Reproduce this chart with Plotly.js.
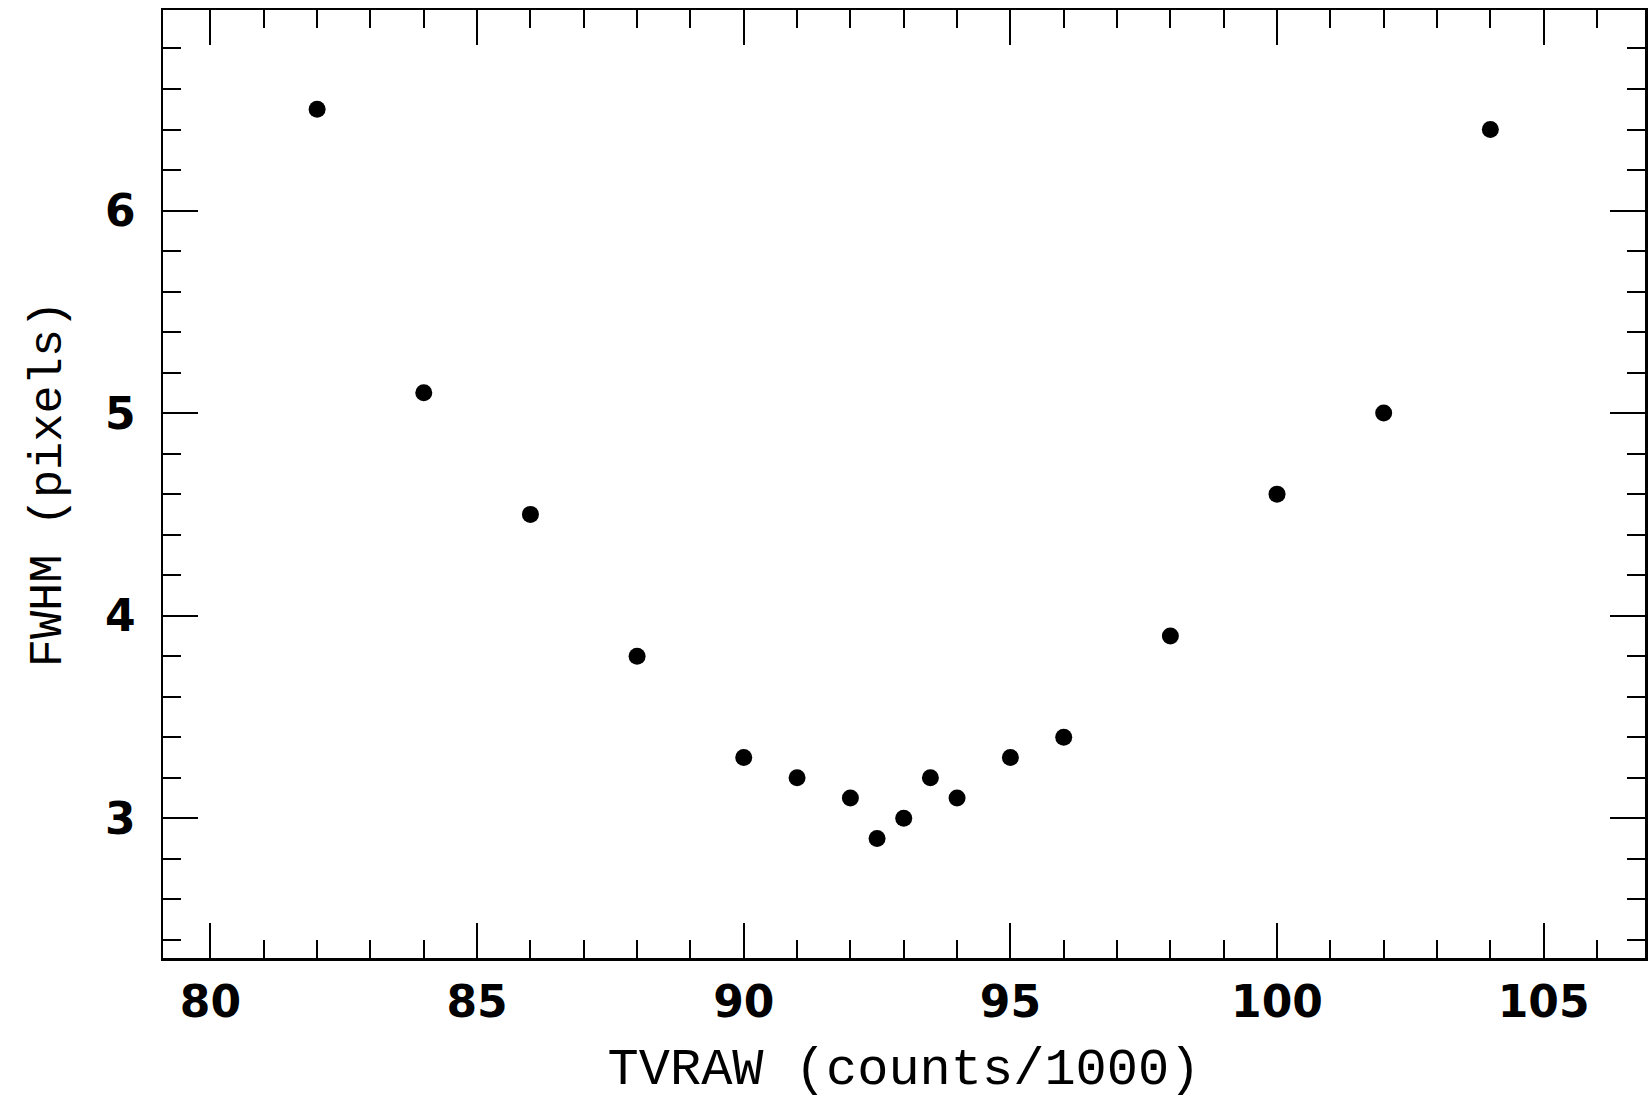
<!DOCTYPE html>
<html>
<head>
<meta charset="utf-8">
<script src="https://cdn.plot.ly/plotly-3.0.1.min.js"></script>
<style>html,body{margin:0;padding:0;background:#fff;}</style>
</head>
<body>
<div id="chart" style="width:1650px;height:1100px;"></div>
<script>
const tvraw = [82, 84, 86, 88, 90, 91, 92, 92.5, 93, 93.5, 94, 95, 96, 98, 100, 102, 104];
const fwhm  = [6.5, 5.1, 4.5, 3.8, 3.3, 3.2, 3.1, 2.9, 3.0, 3.2, 3.1, 3.3, 3.4, 3.9, 4.6, 5.0, 6.4];
const xTitle = 'TVRAW (counts/1000)';
const yTitle = 'FWHM (pixels)';

const tickFont = {family: 'DejaVu Sans', size: 44, color: '#000', weight: 'bold'};
const titleFontX = {family: 'Liberation Mono', size: 52, color: '#000'};
const titleFontY = {family: 'Liberation Mono', size: 47, color: '#000'};

const trace = {
  x: tvraw, y: fwhm, mode: 'markers', type: 'scatter',
  marker: {color: '#000', size: 17, symbol: 'circle'},
  hoverinfo: 'x+y'
};

const axisCommon = {
  showgrid: false, zeroline: false, showline: true, linecolor: '#000', linewidth: 2.5,
  mirror: 'allticks', ticks: 'inside', ticklen: 35, tickwidth: 2, tickcolor: '#000',
  tickfont: tickFont,
};

const layout = {
  width: 1650, height: 1100,
  margin: {l: 163, r: 5, t: 10, b: 142},
  paper_bgcolor: '#fff', plot_bgcolor: '#fff',
  showlegend: false,
  xaxis: Object.assign({}, axisCommon, {
    range: [79.11, 106.9], tick0: 0, dtick: 5,
    minor: {dtick: 1, ticks: 'inside', ticklen: 18, tickwidth: 2, tickcolor: '#000', showgrid: false},
    ticklabelstandoff: 4,
    title: {text: xTitle, font: titleFontX, standoff: 26}
  }),
  yaxis: Object.assign({}, axisCommon, {
    range: [2.31, 6.99], tick0: 0, dtick: 1,
    minor: {dtick: 0.2, ticks: 'inside', ticklen: 18, tickwidth: 2, tickcolor: '#000', showgrid: false},
    ticklabelstandoff: 16,
    title: {text: yTitle, font: titleFontY, standoff: 29}
  })
};

Plotly.newPlot('chart', [trace], layout, {displayModeBar: false, staticPlot: true});
</script>
</body>
</html>
